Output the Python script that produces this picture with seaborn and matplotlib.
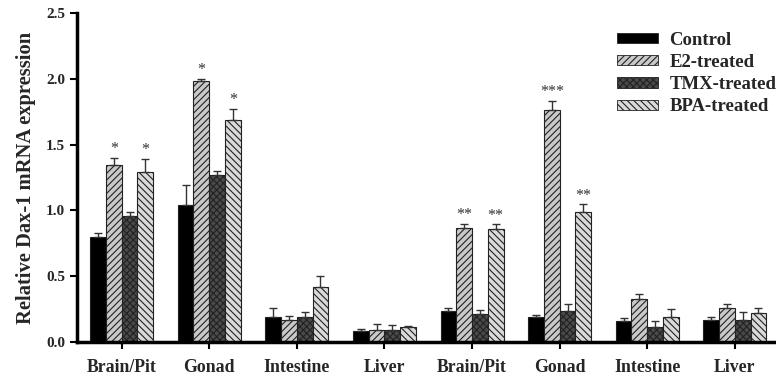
import numpy as np
import pandas as pd
import matplotlib
matplotlib.use("Agg")
import matplotlib.pyplot as plt
from matplotlib.patches import Patch
import seaborn as sns

# Tissue groups (first four: first sampling, last four: second sampling)
tissues = ["Brain/Pit", "Gonad", "Intestine", "Liver",
           "Brain/Pit", "Gonad", "Intestine", "Liver"]
treatments = ["Control", "E2-treated", "TMX-treated", "BPA-treated"]

# Mean relative expression per treatment, one entry per tissue group
control = [0.80, 1.04, 0.19, 0.083, 0.235, 0.19, 0.157, 0.165]
e2 = [1.345, 1.98, 0.17, 0.094, 0.868, 1.763, 0.324, 0.258]
tmx = [0.955, 1.27, 0.19, 0.094, 0.21, 0.235, 0.114, 0.165]
bpa = [1.294, 1.69, 0.42, 0.116, 0.856, 0.985, 0.19, 0.218]

# Standard errors (upper bars only)
control_err = [0.03, 0.15, 0.07, 0.014, 0.021, 0.015, 0.028, 0.025]
e2_err = [0.055, 0.02, 0.03, 0.046, 0.029, 0.067, 0.043, 0.028]
tmx_err = [0.03, 0.03, 0.04, 0.036, 0.03, 0.055, 0.043, 0.063]
bpa_err = [0.096, 0.08, 0.08, 0.004, 0.038, 0.061, 0.06, 0.038]

# Significance marks
control_sig = [""] * 8
e2_sig = ["*", "*", "", "", "**", "***", "", ""]
tmx_sig = [""] * 8
bpa_sig = ["*", "*", "", "", "**", "**", "", ""]

values = [control, e2, tmx, bpa]
errors = [control_err, e2_err, tmx_err, bpa_err]
sigs = [control_sig, e2_sig, tmx_sig, bpa_sig]

group_keys = [f"g{i}" for i in range(len(tissues))]
rows = []
for t, vals in zip(treatments, values):
    for g, v in zip(group_keys, vals):
        rows.append({"group": g, "treatment": t, "value": v})
df = pd.DataFrame(rows)

face = {"Control": "#000000", "E2-treated": "#c9c9c9",
        "TMX-treated": "#4a4a4a", "BPA-treated": "#dadada"}
hatches = {"Control": "", "E2-treated": "/////",
           "TMX-treated": "xxxxx", "BPA-treated": "\\\\\\\\\\"}

plt.rcParams["hatch.linewidth"] = 0.8
sns.set_style("white")
plt.rcParams["font.family"] = ["Liberation Serif", "DejaVu Serif"]

fig = plt.figure(figsize=(7.76, 3.8), dpi=100)
ax = fig.add_axes([0.0992, 0.1, 0.9008, 0.866])

sns.barplot(data=df, x="group", y="value", hue="treatment",
            order=group_keys, hue_order=treatments, palette=face,
            width=0.72, errorbar=None, saturation=1, ax=ax,
            edgecolor="#222222", linewidth=0.8, legend=False)

# Apply hatches and draw upper error bars + significance marks
for cont, t, errs, marks in zip(ax.containers, treatments, errors, sigs):
    xs = []
    tops = []
    for bar in cont:
        bar.set_hatch(hatches[t])
        xs.append(bar.get_x() + bar.get_width() / 2)
        tops.append(bar.get_height())
    xs = np.array(xs)
    tops = np.array(tops)
    errs = np.array(errs)
    ax.errorbar(xs, tops, yerr=[np.zeros_like(errs), errs], fmt="none",
                ecolor="#333333", elinewidth=1.0, capsize=3.2, capthick=1.0,
                zorder=1)
    for x, top, e, m in zip(xs, tops, errs, marks):
        if m:
            ax.text(x, top + e + 0.005, m, ha="center", va="bottom",
                    fontsize=11.5, color="#333333")

# Legend with hatched handles
handles = [Patch(facecolor=face[t], edgecolor="#222222", hatch=hatches[t],
                 linewidth=0.6, label=t) for t in treatments]
leg = ax.legend(handles=handles, loc="upper left", frameon=False,
                bbox_to_anchor=(0.7725, 0.943), borderpad=0,
                borderaxespad=0, handlelength=2.2, handleheight=0.45,
                handletextpad=0.6, labelspacing=0.28,
                prop={"weight": "bold", "size": 13.5})

ax.set_xlim(-0.51, 7.47)
ax.set_ylim(0, 2.5)
ax.set_yticks([0.0, 0.5, 1.0, 1.5, 2.0, 2.5])
ax.set_yticklabels([f"{v:.1f}" for v in [0.0, 0.5, 1.0, 1.5, 2.0, 2.5]],
                   fontweight="bold", fontsize=11)
ax.set_xticks(range(len(tissues)))
ax.set_xticklabels(tissues, fontweight="bold", fontsize=12.8)
ax.set_xlabel("")
ax.set_ylabel("Relative Dax-1 mRNA expression", fontweight="bold",
              fontsize=14.8, labelpad=7)

for side in ["top", "right"]:
    ax.spines[side].set_visible(False)
for side in ["left", "bottom"]:
    ax.spines[side].set_linewidth(2.5)
    ax.spines[side].set_color("black")
ax.tick_params(axis="both", direction="out", length=5, width=1.5,
               color="black", bottom=True, left=True)
ax.tick_params(axis="x", pad=7)

fig.savefig("out.png", dpi=100)
